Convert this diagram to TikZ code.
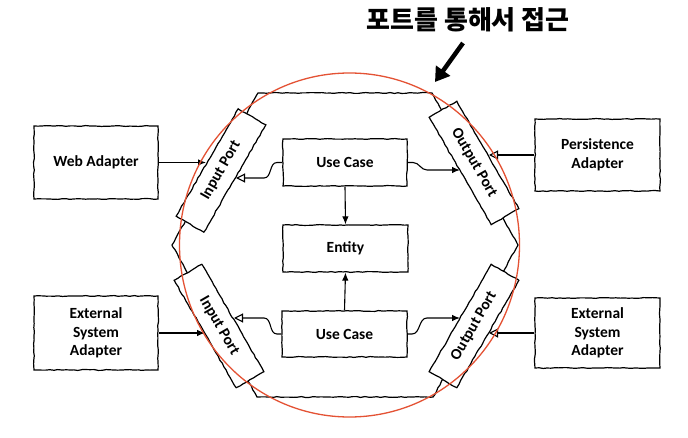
\documentclass[tikz,border=0pt]{standalone}
\usepackage{fontspec}
\setmainfont{Carlito}
\newfontfamily\krfont{Noto Sans CJK KR}
\usetikzlibrary{arrows.meta,decorations.pathmorphing,calc}
\definecolor{circred}{RGB}{228,82,52}
\tikzset{
  sketch/.style={decorate,decoration={random steps,segment length=4pt,amplitude=0.45pt}},
  box/.style={draw,line width=1.2pt,fill=white,align=center,inner sep=2pt,
    font=\bfseries\fontsize{15.5}{18.5}\selectfont,sketch},
  port/.style={box,minimum width=124pt,minimum height=32pt},
  fa/.style={-{Latex[length=8pt,width=6.5pt]},line width=1.1pt},
  oa/.style={-{Triangle[open,length=9pt,width=9pt]},line width=1.1pt},
  hexa/.style={line width=1.2pt,sketch},
}
\begin{document}
\pgfmathsetseed{7}
\begin{tikzpicture}[x=1pt,y=-1pt]
\useasboundingbox (0,0) rectangle (688,438);
\fill[white] (0,0) rectangle (688,438);

% title and pointer
\node[font=\krfont\bfseries\fontsize{26}{28}\selectfont] (title) at (468,20) {포트를 통해서 접근};
\coordinate (ps) at (463,43);
\coordinate (pe) at (435,82);
\draw[line width=4.5pt,-{Triangle[length=14pt,width=17pt]}] (ps) -- (pe);

% hexagon
\draw[hexa] (258,93) -- (432,93) -- (518,245) -- (433,397) -- (257,397) -- (172,245) -- cycle;

% outer adapters
\node[box,minimum width=124pt,minimum height=73pt] (web) at (96,162.5) {Web Adapter};
\node[box,minimum width=124pt,minimum height=74pt] (extl) at (96,333) {External\\System\\Adapter};
\node[box,minimum width=125pt,minimum height=72pt] (pers) at (597.5,155) {Persistence\\Adapter};
\node[box,minimum width=125pt,minimum height=70pt] (extr) at (597.5,333) {External\\System\\Adapter};

% core
\node[box,minimum width=124pt,minimum height=47pt] (uc1) at (345,162.5) {Use Case};
\node[box,minimum width=125pt,minimum height=47pt] (ent) at (345.5,248.5) {Entity};
\node[box,minimum width=125pt,minimum height=46pt] (uc2) at (344.5,334) {Use Case};

% ports
\node[port,rotate=60] (ip1) at (221,170.5) {Input Port};
\node[port,rotate=-60] (op1) at (474,163) {Output Port};
\node[port,rotate=-60] (ip2) at (219,326) {Input Port};
\node[port,rotate=60] (op2) at (474,326) {Output Port};

% connector end points on port borders
\coordinate (ip1o) at (206,162.5);
\coordinate (ip1i) at (236,178);
\coordinate (op1i) at (460,170);
\coordinate (op1o) at (489,155);
\coordinate (ip2o) at (205,333);
\coordinate (ip2i) at (234,318);
\coordinate (op2i) at (460,318);
\coordinate (op2o) at (489,333);

% connectors
\draw[fa] (web.east) -- (ip1o);
\draw[fa] (extl.east) -- (ip2o);
\draw[oa] (pers.west) -- (op1o);
\draw[oa] (extr.west) -- (op2o);
\draw[oa] (uc1.west) -- (277,162.5) to[out=180,in=0] (264,178) -- (ip1i);
\draw[fa] (uc1.east) -- (413,162.5) to[out=0,in=180] (427,170) -- (op1i);
\draw[oa] (uc2.west) -- (277,334) to[out=180,in=0] (264,318) -- (ip2i);
\draw[fa] (uc2.east) -- (412,334) to[out=0,in=180] (427,318) -- (op2i);
\draw[fa] (uc1.south) -- (ent.north);
\draw[fa] (uc2.north) -- (ent.south);

% highlight circle
\draw[circred,line width=1.3pt] (349.5,245) ellipse [x radius=170pt,y radius=172pt];
\end{tikzpicture}
\end{document}
